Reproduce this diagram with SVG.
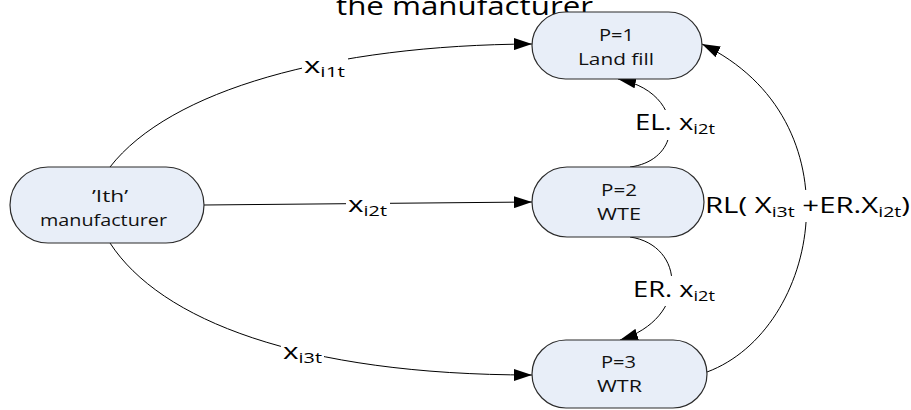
<svg xmlns="http://www.w3.org/2000/svg" width="911" height="410" viewBox="0 0 911 410">
  <defs>
    <marker id="arrow" viewBox="0 0 18 12" refX="18" refY="6" markerWidth="18" markerHeight="12" markerUnits="userSpaceOnUse" orient="auto">
      <path d="M0,0 L18,6 L0,12 Z" fill="#000"/>
    </marker>
    <style>
      .node rect { fill: #e8eef8; stroke: #2b2b2b; stroke-width: 1.2; }
      .ntext { font-family: "Open Sans", "Noto Sans", sans-serif; font-size: 16px; fill: #111; }
      .edge { fill: none; stroke: #000; stroke-width: 1; marker-end: url(#arrow); }
      .lbl { font-family: "Open Sans", "Noto Sans", sans-serif; font-size: 21px; fill: #000; }
      .sub { font-size: 14px; }
      .bg { fill: #fff; }
    </style>
  </defs>

  <rect width="911" height="410" fill="#fff"/>

  <!-- title, partly above the top edge -->
  <text x="336" y="15" font-family="'Open Sans', 'Noto Sans', sans-serif" font-size="25" fill="#000" textLength="257" lengthAdjust="spacingAndGlyphs">the manufacturer</text>

  <g id="connectors">
    <path class="edge" d="M110,167 C170,90 330,45 532,44"/>
    <path class="edge" d="M204,205 L532,202"/>
    <path class="edge" d="M110,243 C160,320 300,375 532,375"/>
    <path class="edge" d="M630,167 C685,160 685,92 618,79"/>
    <path class="edge" d="M630,237 C685,245 690,318 620,340"/>
    <path class="edge" d="M707,372 C820,330 860,120 702,44"/>

    <!-- edge labels on white backgrounds -->
    <rect class="bg" x="302" y="56" width="46" height="26"/>
    <text class="lbl" x="304" y="73" textLength="41" lengthAdjust="spacingAndGlyphs">x<tspan class="sub" dy="4">i1t</tspan></text>

    <rect class="bg" x="346" y="194" width="44" height="26"/>
    <text class="lbl" x="348" y="212" textLength="39" lengthAdjust="spacingAndGlyphs">x<tspan class="sub" dy="4">i2t</tspan></text>

    <rect class="bg" x="281" y="341" width="43" height="26"/>
    <text class="lbl" x="283" y="359" textLength="39" lengthAdjust="spacingAndGlyphs">x<tspan class="sub" dy="4">i3t</tspan></text>

    <rect class="bg" x="632" y="110" width="86" height="30"/>
    <text class="lbl" x="635" y="130" textLength="80" lengthAdjust="spacingAndGlyphs">EL. x<tspan class="sub" dy="4">i2t</tspan></text>

    <rect class="bg" x="630" y="276" width="88" height="30"/>
    <text class="lbl" x="633" y="297" textLength="82" lengthAdjust="spacingAndGlyphs">ER. x<tspan class="sub" dy="4">i2t</tspan></text>

    <rect class="bg" x="703" y="190" width="208" height="32"/>
    <text class="lbl" x="705" y="213" font-size="23" textLength="205" lengthAdjust="spacingAndGlyphs">RL( X<tspan class="sub" dy="4">i3t</tspan><tspan dy="-4"> +ER.X</tspan><tspan class="sub" dy="4">i2t</tspan><tspan dy="-4">)</tspan></text>
  </g>

  <g id="manufacturer" class="node">
    <rect x="10" y="167" width="194" height="76" rx="38"/>
    <text class="ntext" x="92" y="202" textLength="36" lengthAdjust="spacingAndGlyphs">’Ith’</text>
    <text class="ntext" x="40" y="226" textLength="127" lengthAdjust="spacingAndGlyphs">manufacturer</text>
  </g>

  <g id="landfill" class="node">
    <rect x="532" y="12" width="170" height="67" rx="33.5"/>
    <text class="ntext" x="599" y="41" textLength="35" lengthAdjust="spacingAndGlyphs">P=1</text>
    <text class="ntext" x="578" y="65" textLength="76" lengthAdjust="spacingAndGlyphs">Land fill</text>
  </g>

  <g id="wte" class="node">
    <rect x="532" y="167" width="172" height="70" rx="35"/>
    <text class="ntext" x="601" y="196" textLength="36" lengthAdjust="spacingAndGlyphs">P=2</text>
    <text class="ntext" x="597" y="220" textLength="44" lengthAdjust="spacingAndGlyphs">WTE</text>
  </g>

  <g id="wtr" class="node">
    <rect x="532" y="340" width="175" height="68" rx="34"/>
    <text class="ntext" x="601" y="368" textLength="35" lengthAdjust="spacingAndGlyphs">P=3</text>
    <text class="ntext" x="597" y="392" textLength="45" lengthAdjust="spacingAndGlyphs">WTR</text>
  </g>
</svg>
